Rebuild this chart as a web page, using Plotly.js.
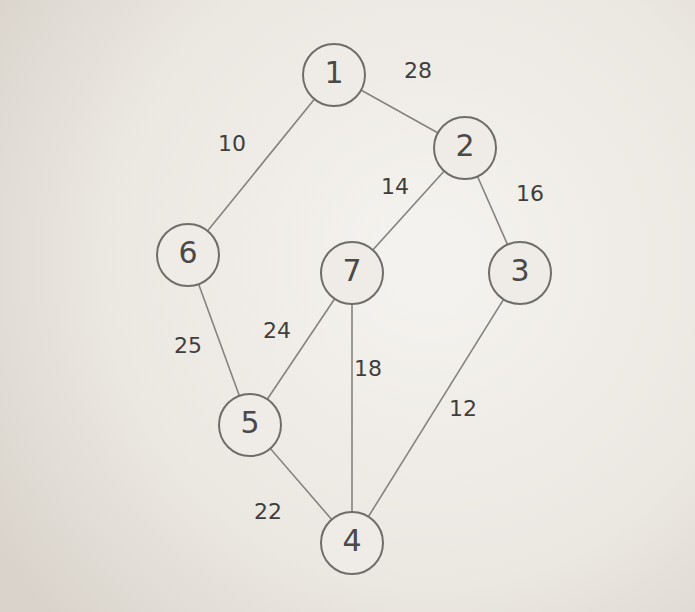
<!DOCTYPE html>
<html>
<head>
<meta charset="utf-8">
<script src="https://cdn.plot.ly/plotly-3.0.1.min.js"></script>
<style>
html, body { margin: 0; padding: 0; background: #e8e4de; }
#graph { width: 695px; height: 612px; }
</style>
</head>
<body>
<div id="graph"></div>
<script>
// nodes of the graph (whiteboard pixel coords)
var nodeNames = ['1', '2', '3', '4', '5', '6', '7'];
var nodeX = [334, 465, 520, 352, 250, 188, 352];
var nodeY = [75, 148, 273, 543, 425, 255, 273];

// edges and their weights
var edgeFrom = ['1', '1', '2', '2', '6', '7', '7', '3', '5'];
var edgeTo   = ['2', '6', '7', '3', '5', '5', '4', '4', '4'];
var weights  = [28, 10, 14, 16, 25, 24, 18, 12, 22];
var weightX  = [418, 232, 395, 530, 188, 277, 368, 463, 268];
var weightY  = [72, 145, 188, 195, 347, 332, 370, 410, 513];

// soft vignette like the photo of the board
var cv = document.createElement('canvas');
cv.width = 695; cv.height = 612;
var ctx = cv.getContext('2d');
var g = ctx.createRadialGradient(430, 260, 40, 430, 260, 520);
g.addColorStop(0, '#f4f2ee');
g.addColorStop(0.6, '#ebe7e1');
g.addColorStop(1, '#d9d3cb');
ctx.fillStyle = g;
ctx.fillRect(0, 0, 695, 612);
var bg = cv.toDataURL();

var traces = [];
var ex = [], ey = [];
for (var i = 0; i < edgeFrom.length; i++) {
  var a = nodeNames.indexOf(edgeFrom[i]);
  var b = nodeNames.indexOf(edgeTo[i]);
  ex.push(nodeX[a], nodeX[b], null);
  ey.push(nodeY[a], nodeY[b], null);
}
traces.push({
  x: ex, y: ey, mode: 'lines', hoverinfo: 'skip',
  line: {color: '#858380', width: 1.6}
});

traces.push({
  x: nodeX, y: nodeY, mode: 'markers+text', text: nodeNames,
  textposition: 'middle center',
  textfont: {family: 'DejaVu Sans', size: 30, color: '#4a4947'},
  marker: {size: 62, color: '#efece7', line: {color: '#6f6d6a', width: 2}}
});

traces.push({
  x: weightX, y: weightY, mode: 'text', text: weights.map(String),
  textposition: 'middle center',
  textfont: {family: 'DejaVu Sans', size: 22, color: '#3f3e3c'}
});

var layout = {
  width: 695, height: 612,
  margin: {l: 0, r: 0, t: 0, b: 0},
  paper_bgcolor: '#e8e4de',
  plot_bgcolor: 'rgba(0,0,0,0)',
  showlegend: false,
  xaxis: {range: [0, 695], visible: false, fixedrange: true},
  yaxis: {range: [612, 0], visible: false, fixedrange: true},
  images: [{
    source: bg, xref: 'paper', yref: 'paper', x: 0, y: 1,
    sizex: 1, sizey: 1, sizing: 'stretch', layer: 'below'
  }]
};

Plotly.newPlot('graph', traces, layout, {staticPlot: true});
</script>
</body>
</html>
